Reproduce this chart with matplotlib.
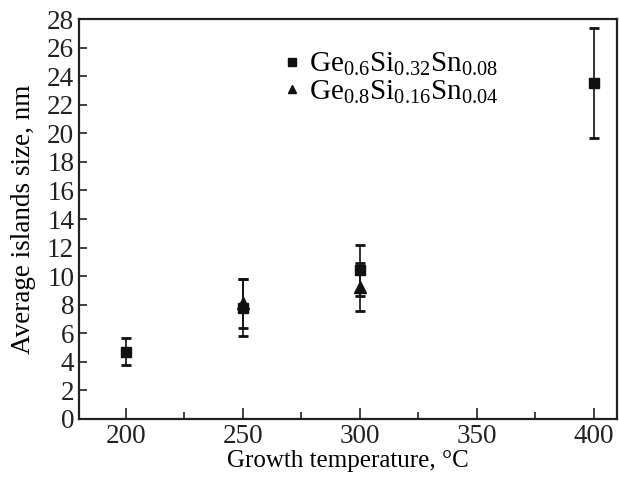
import matplotlib
matplotlib.use("Agg")
import matplotlib.pyplot as plt
from matplotlib.ticker import MultipleLocator

plt.rcParams['font.family'] = ['Liberation Serif', 'DejaVu Serif']
plt.rcParams['mathtext.fontset'] = 'custom'
plt.rcParams['mathtext.rm'] = 'Liberation Serif'
plt.rcParams['mathtext.it'] = 'Liberation Serif:italic'

# series 1: Ge0.6Si0.32Sn0.08
t1 = [200, 250, 300, 400]
size1 = [4.7, 7.8, 10.4, 23.5]
err1 = [0.95, 2.0, 1.8, 3.85]

# series 2: Ge0.8Si0.16Sn0.04
t2 = [250, 300]
size2 = [8.1, 9.25]
err2 = [1.7, 1.7]

lab1 = r'Ge$_{0.6}$Si$_{0.32}$Sn$_{0.08}$'
lab2 = r'Ge$_{0.8}$Si$_{0.16}$Sn$_{0.04}$'

fig = plt.figure(figsize=(6.19, 4.84), dpi=100)
ax = fig.add_axes([0.1276, 0.1343, 0.8695, 0.8264])

ax.errorbar(t1, size1, yerr=err1, fmt='s', color='#111111', ms=7,
            ecolor='#111111', elinewidth=1.2, capsize=3.5, capthick=2, label=lab1)
ax.errorbar(t2, size2, yerr=err2, fmt='^', color='#111111', ms=8,
            ecolor='#111111', elinewidth=1.2, capsize=3.5, capthick=2, label=lab2)

ax.set_xlim(180, 410)
ax.set_ylim(0, 28)
ax.xaxis.set_major_locator(MultipleLocator(50))
ax.xaxis.set_minor_locator(MultipleLocator(25))
ax.yaxis.set_major_locator(MultipleLocator(2))
ax.tick_params(which='both', direction='in', labelsize=19.5, width=1.2, colors='#222222')
ax.tick_params(which='major', length=8)
ax.tick_params(which='minor', length=5)
ax.tick_params(axis='y', which='major', length=6)
for s in ax.spines.values():
    s.set_linewidth(1.6)
    s.set_color('#222222')

ax.set_xlabel('Growth temperature, °C', fontsize=18, labelpad=1)
ax.set_ylabel('Average islands size, nm', fontsize=19.5, labelpad=8)

handles, labels = ax.get_legend_handles_labels()
handles = [h[0] for h in handles]
leg = ax.legend(handles, labels, loc='upper left', bbox_to_anchor=(0.325, 0.985),
                frameon=False, fontsize=21, handlelength=0.8, handletextpad=0.2,
                labelspacing=0.0, markerscale=0.8)

fig.savefig('out.png', dpi=100)
